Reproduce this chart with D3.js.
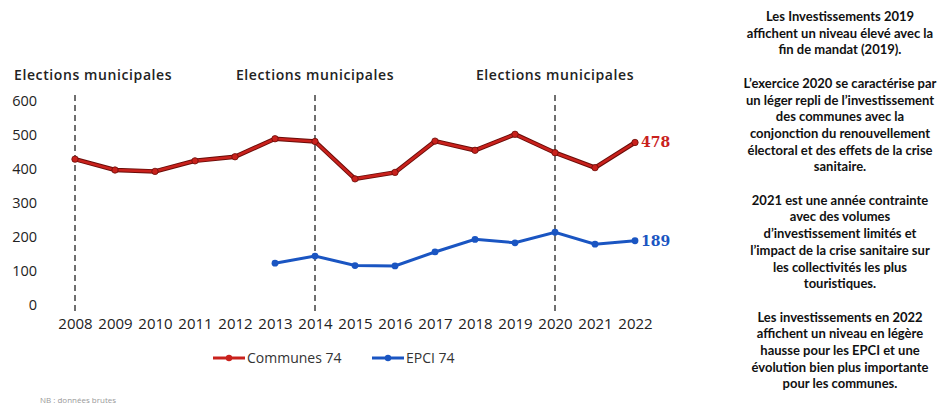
<!DOCTYPE html>
<html>
<head>
<meta charset="utf-8">
<script src="https://cdn.jsdelivr.net/npm/d3@7"></script>
<style>
  body { margin: 0; background: #fff; }
  svg { display: block; }
</style>
</head>
<body>
<div id="chart"></div>
<script>
// Data
const years = [2008, 2009, 2010, 2011, 2012, 2013, 2014, 2015, 2016, 2017, 2018, 2019, 2020, 2021, 2022];
const communes = [429, 397, 393, 424, 436, 489, 481, 371, 390, 482, 455, 502, 448, 404, 478];
const epciYears = [2013, 2014, 2015, 2016, 2017, 2018, 2019, 2020, 2021, 2022];
const epci = [123, 144, 116, 115, 156, 193, 183, 214, 179, 189];
const electionYears = [2008, 2014, 2020];
const yTicks = [0, 100, 200, 300, 400, 500, 600];
const electionLabel = "Elections municipales";
const seriesNames = ["Communes 74", "EPCI 74"];
const footnote = "NB : données brutes";
const sideText = [
  "Les Investissements 2019",
  "affichent un niveau élevé avec la",
  "fin de mandat (2019).",
  "",
  "L’exercice 2020 se caractérise par",
  "un léger repli de l’investissement",
  "des communes avec la",
  "conjonction du renouvellement",
  "électoral et des effets de la crise",
  "sanitaire.",
  "",
  "2021 est une année contrainte",
  "avec des volumes",
  "d’investissement limités et",
  "l’impact de la crise sanitaire sur",
  "les collectivités les plus",
  "touristiques.",
  "",
  "Les investissements en 2022",
  "affichent un niveau en légère",
  "hausse pour les EPCI et une",
  "évolution bien plus importante",
  "pour les communes."
];

const red = "#c9211c";
const blue = "#1a55c2";

const svg = d3.select("#chart")
  .append("svg")
  .attr("width", 944)
  .attr("height", 407);

// Scales
const x = d3.scaleLinear().domain([2008, 2022]).range([75, 635]);
const y = d3.scaleLinear().domain([0, 600]).range([305, 101]);

// Y axis
const yAxis = svg.append("g")
  .attr("transform", "translate(37,0)")
  .call(d3.axisLeft(y).tickValues(yTicks).tickSize(0).tickPadding(0));
yAxis.select(".domain").remove();
yAxis.selectAll("text")
  .attr("font-family", "'Open Sans', sans-serif")
  .attr("font-size", 14.5)
  .attr("fill", "#222");

// X axis
const xAxis = svg.append("g")
  .attr("transform", "translate(0,318)")
  .call(d3.axisBottom(x).tickValues(years).tickFormat(d3.format("d")).tickSize(0).tickPadding(0));
xAxis.select(".domain").remove();
xAxis.selectAll("text")
  .attr("font-family", "'Open Sans', sans-serif")
  .attr("font-size", 15)
  .attr("fill", "#222");

// Election markers
svg.selectAll(".election")
  .data(electionYears)
  .join("line")
  .attr("class", "election")
  .attr("x1", d => x(d))
  .attr("x2", d => x(d))
  .attr("y1", 95)
  .attr("y2", 311)
  .attr("stroke", "#6f6f6f")
  .attr("stroke-width", 2)
  .attr("stroke-dasharray", "6,4");

svg.selectAll(".electionLabel")
  .data(electionYears)
  .join("text")
  .attr("class", "electionLabel")
  .attr("x", (d, i) => i === 0 ? 14 : x(d))
  .attr("y", 80)
  .attr("text-anchor", (d, i) => i === 0 ? "start" : "middle")
  .attr("font-family", "'Open Sans', sans-serif")
  .attr("font-weight", 600)
  .attr("font-size", 14)
  .attr("letter-spacing", 0.6)
  .attr("fill", "#222")
  .text(electionLabel);

// Lines
const line = d3.line().x(d => x(d[0])).y(d => y(d[1]));
const comPts = years.map((yr, i) => [yr, communes[i]]);
const epciPts = epciYears.map((yr, i) => [yr, epci[i]]);

svg.append("path")
  .datum(comPts)
  .attr("fill", "none")
  .attr("stroke", "#6a0c08")
  .attr("stroke-width", 4.5)
  .attr("d", line);
svg.append("path")
  .datum(comPts)
  .attr("fill", "none")
  .attr("stroke", red)
  .attr("stroke-width", 2.6)
  .attr("d", line);
svg.selectAll(".comDot")
  .data(comPts)
  .join("circle")
  .attr("class", "comDot")
  .attr("cx", d => x(d[0]))
  .attr("cy", d => y(d[1]))
  .attr("r", 3.2)
  .attr("fill", red)
  .attr("stroke", "#6a0c08")
  .attr("stroke-width", 0.8);

svg.append("path")
  .datum(epciPts)
  .attr("fill", "none")
  .attr("stroke", blue)
  .attr("stroke-width", 3)
  .attr("d", line);
svg.selectAll(".epciDot")
  .data(epciPts)
  .join("circle")
  .attr("class", "epciDot")
  .attr("cx", d => x(d[0]))
  .attr("cy", d => y(d[1]))
  .attr("r", 3.4)
  .attr("fill", blue);

// End labels
const lastCom = comPts[comPts.length - 1];
const lastEpci = epciPts[epciPts.length - 1];
svg.append("text")
  .attr("x", x(lastCom[0]) + 6)
  .attr("y", y(lastCom[1]) + 5)
  .attr("font-family", "'DejaVu Serif', serif")
  .attr("font-weight", "bold")
  .attr("font-size", 14)
  .attr("fill", red)
  .text(lastCom[1]);
svg.append("text")
  .attr("x", x(lastEpci[0]) + 6)
  .attr("y", y(lastEpci[1]) + 5)
  .attr("font-family", "'DejaVu Serif', serif")
  .attr("font-weight", "bold")
  .attr("font-size", 14)
  .attr("fill", blue)
  .text(lastEpci[1]);

// Legend
const legend = svg.append("g").attr("transform", "translate(213,358)");
const legItems = [
  { name: seriesNames[0], color: red, x: 0 },
  { name: seriesNames[1], color: blue, x: 159 }
];
legItems.forEach(it => {
  const g = legend.append("g").attr("transform", `translate(${it.x},0)`);
  g.append("line").attr("x1", 0).attr("x2", 32).attr("y1", 0).attr("y2", 0)
    .attr("stroke", it.color).attr("stroke-width", 3);
  g.append("circle").attr("cx", 16).attr("cy", 0).attr("r", 3.2).attr("fill", it.color);
  g.append("text").attr("x", 34).attr("y", 5)
    .attr("font-family", "'Open Sans', sans-serif")
    .attr("font-size", 14)
    .attr("fill", "#333")
    .text(it.name);
});

// Footnote (faint)
svg.append("text")
  .attr("x", 40)
  .attr("y", 403)
  .attr("font-family", "'Open Sans', sans-serif")
  .attr("font-size", 8)
  .attr("fill", "#999")
  .text(footnote);

// Side commentary
svg.append("g")
  .selectAll("text")
  .data(sideText)
  .join("text")
  .attr("x", 840)
  .attr("y", (d, i) => 21 + i * 16.7)
  .attr("text-anchor", "middle")
  .attr("font-family", "Lato, sans-serif")
  .attr("font-weight", "bold")
  .attr("font-size", 13)
  .attr("fill", "#111")
  .text(d => d);
</script>
</body>
</html>
